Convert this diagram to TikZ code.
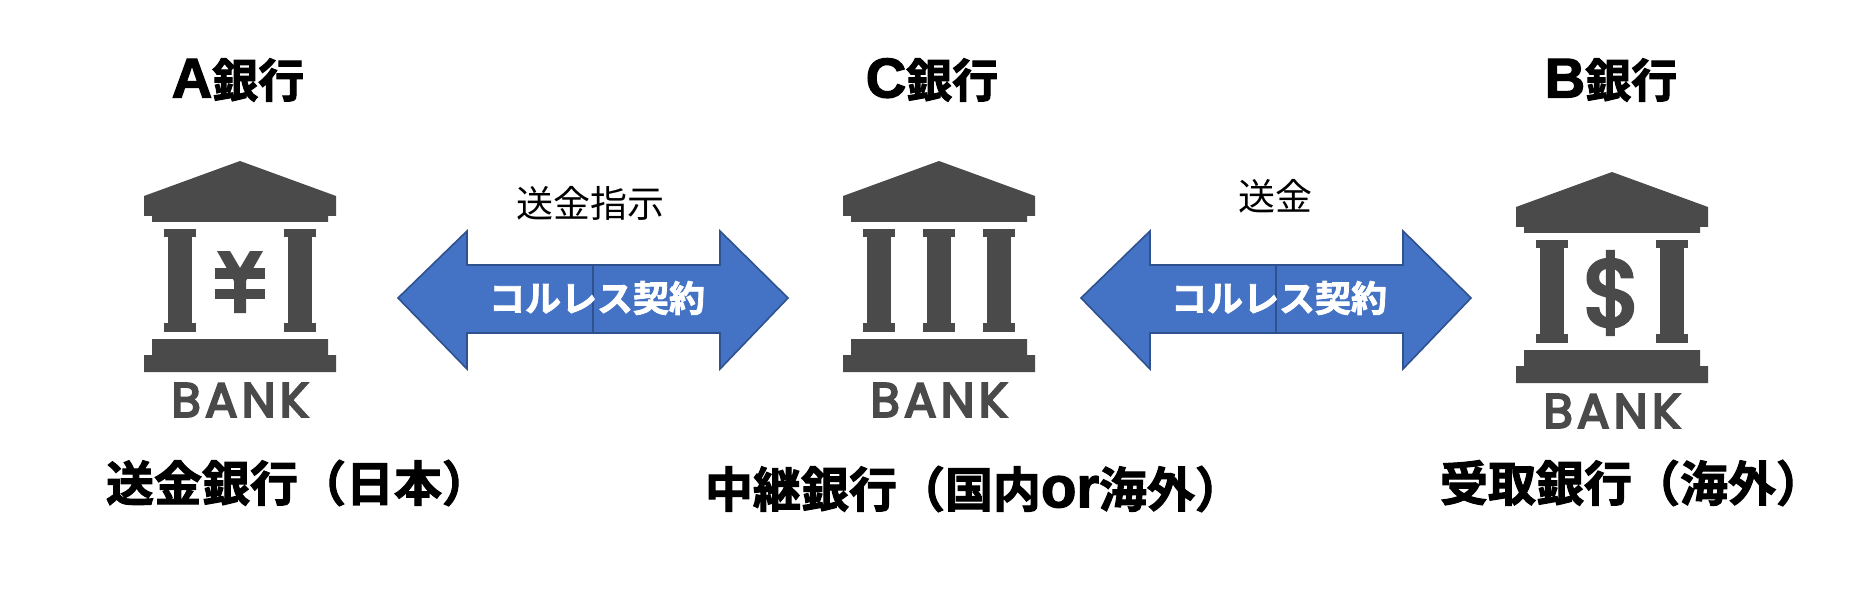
\documentclass[tikz,border=0pt]{standalone}
\usepackage{fontspec}
\newfontfamily\jpbold{Noto Sans CJK JP Bold}[FakeBold=2.2]
\newfontfamily\jpreg{Noto Sans CJK JP}
\newfontfamily\latinbold{Liberation Sans}[BoldFont={Liberation Sans Bold},BoldFeatures={FakeBold=2.2}]
\newfontfamily\iconfont{Poppins}[LetterSpace=9,FakeBold=4.5]
\newfontfamily\dollarfont{Poppins}[FakeBold=4]
\definecolor{bankgrey}{HTML}{4A4A4A}
\definecolor{arrowfill}{HTML}{4472C4}
\definecolor{arrowline}{HTML}{2F528F}
\tikzset{
  icon/.style={fill=bankgrey,draw=none},
  title/.style={font=\jpbold\fontsize{46}{46}\selectfont,text=black,inner sep=0pt},
  role/.style={font=\jpbold\fontsize{48}{48}\selectfont,text=black,inner sep=0pt},
  note/.style={font=\jpreg\fontsize{37}{37}\selectfont,text=black,inner sep=0pt},
  inarrow/.style={font=\jpbold\fontsize{36}{36}\selectfont,text=white,inner sep=0pt},
  banklabel/.style={font=\iconfont\fontsize{48}{48}\selectfont,text=bankgrey,inner sep=0pt},
  blockarrow/.style={fill=arrowfill,draw=arrowline,line width=1.6pt,line join=miter},
  divider/.style={draw=arrowline,line width=1.6pt}
}
\newcommand{\bankcolumn}[1]{%
  \fill[icon] (#1-16,68) rectangle (#1+16,76);
  \fill[icon] (#1-12,76) rectangle (#1+12,162);
  \fill[icon] (#1-16,162) rectangle (#1+16,171);}
\newcommand{\bankicon}[3]{%
  \begin{scope}[shift={(#1,#2)}]
    \fill[icon] (96,0)--(192,35)--(192,55)--(184,55)--(184,61)--(8,61)--(8,55)--(0,55)--(0,35)--cycle;
    \bankcolumn{36}
    \bankcolumn{156}
    \fill[icon] (8,178)--(184,178)--(184,194)--(192,194)--(192,211)--(0,211)--(0,194)--(8,194)--cycle;
    \node[banklabel] (#3) at (96,239) {BANK};
  \end{scope}}
\newcommand{\blockarrow}[1]{%
  \begin{scope}[shift={(#1,0)}]
    \draw[blockarrow] (0,298)--(69,231)--(69,265)--(322,265)--(322,231)--(390,298)--(322,369)--(322,333)--(69,333)--(69,369)--cycle;
    \draw[divider] (195,265)--(195,333);
  \end{scope}}
\begin{document}
\begin{tikzpicture}[x=1pt,y=-1pt]
\useasboundingbox[fill=white] (0,0) rectangle (1855,604);
% titles
\node[title] (ta) at (238,80) {{\latinbold\bfseries\fontsize{56}{56}\selectfont A}銀行};
\node[title] (tc) at (932,80) {{\latinbold\bfseries\fontsize{56}{56}\selectfont C}銀行};
\node[title] (tb) at (1611,80) {{\latinbold\bfseries\fontsize{56}{56}\selectfont B}銀行};
% banks
\bankicon{144}{161}{banka}
\bankicon{843}{161}{bankc}
\bankicon{1516}{172}{bankb}
\begin{scope}[shift={(843,161)}]
  \bankcolumn{96}
\end{scope}
% yen
\begin{scope}[shift={(144,161)}]
  \fill[icon] (73,90)--(86,90)--(96,107)--(106,90)--(119,90)--(102,120)--(102,152)--(90,152)--(90,120)--cycle;
  \fill[icon] (71,107) rectangle (121,118);
  \fill[icon] (71,128) rectangle (121,138);
\end{scope}
\node[font=\dollarfont\fontsize{94}{94}\selectfont,text=bankgrey,inner sep=0pt] (dollar) at (1612,293) {\$};
% arrows
\blockarrow{398}
\blockarrow{1081}
\node[inarrow] (ia) at (597,298) {コルレス契約};
\node[inarrow] (ib) at (1279,298) {コルレス契約};
\node[note] (na) at (590,203) {送金指示};
\node[note] (nb) at (1275,196) {送金};
% roles
\node[role] (ra) at (298,483) {送金銀行（日本）};
\node[role] (rc) at (974,489) {中継銀行（国内{\latinbold\bfseries\fontsize{58}{58}\selectfont or}海外）};
\node[role] (rb) at (1632,483) {受取銀行（海外）};
\end{tikzpicture}
\end{document}
